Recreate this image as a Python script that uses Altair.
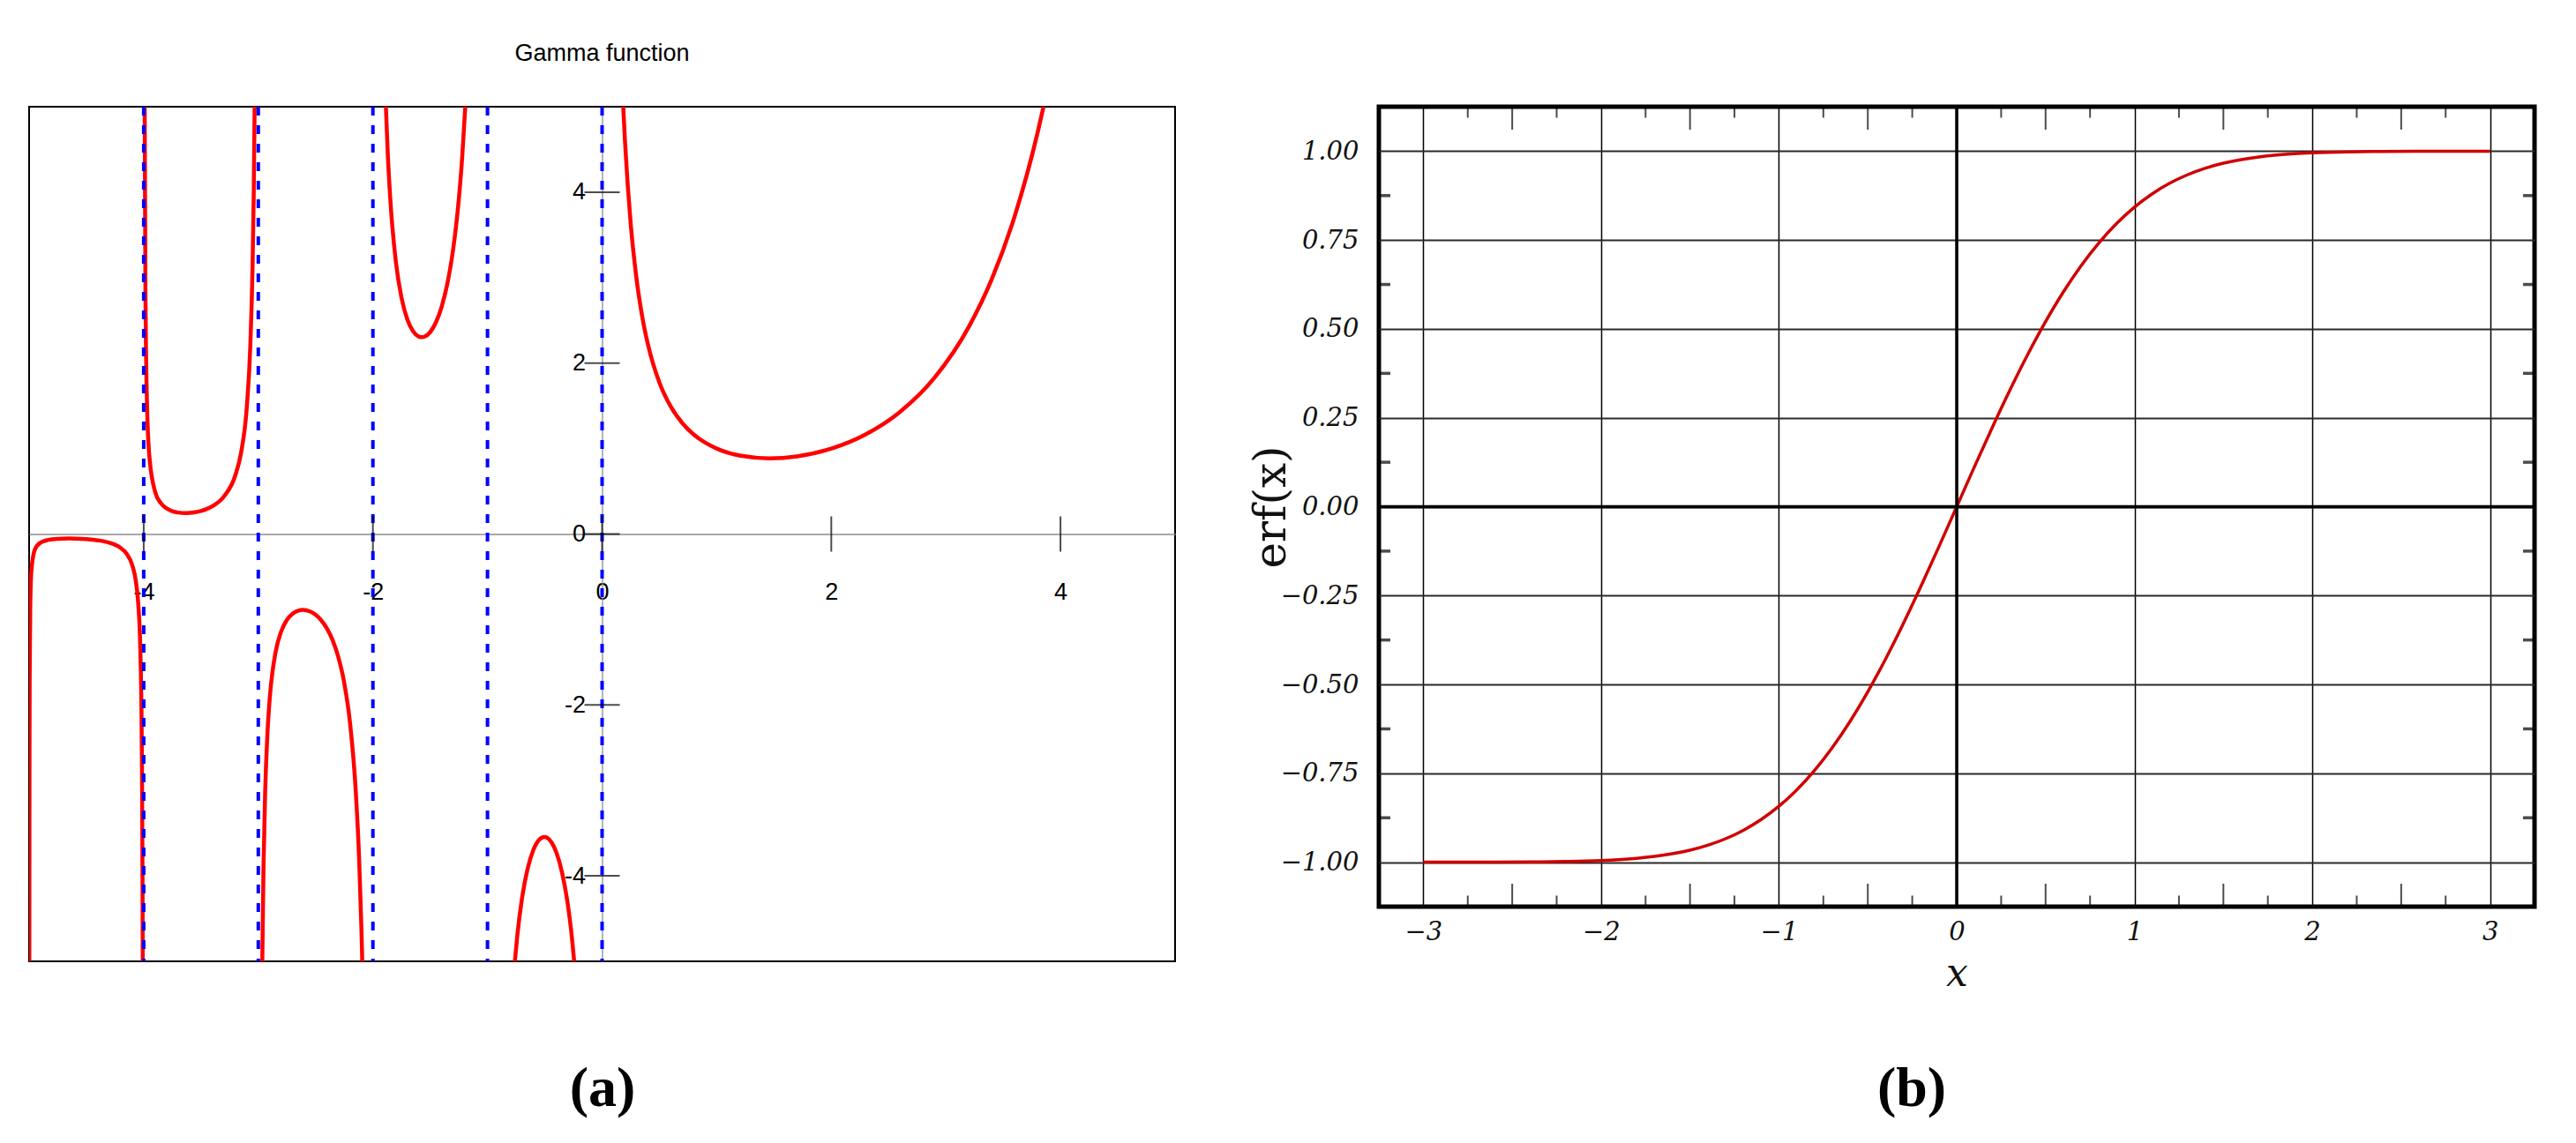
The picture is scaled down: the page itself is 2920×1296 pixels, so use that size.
import altair as alt
import pandas as pd

# ---------------- Panel (a): Gamma function, branches ----------------
gamma_b1_x = [-4.99833, -4.997, -4.995, -4.99, -4.98, -4.95, -4.9, -4.8, -4.7, -4.65, -4.6, -4.5,
              -4.4, -4.3, -4.2, -4.15, -4.1, -4.07, -4.05, -4.03, -4.02, -4.015, -4.01, -4.0082]
gamma_b1_y = [-5.0, -2.792, -1.681, -0.848, -0.431, -0.182, -0.100, -0.0624, -0.0535, -0.0528, -0.0537, -0.0600,
              -0.0741, -0.1020, -0.1641, -0.2295, -0.3640, -0.5397, -0.7759, -1.3288, -2.0224, -2.7167, -4.105, -5.0]

gamma_b2_x = [-3.9916, -3.985, -3.98, -3.97, -3.95, -3.9, -3.85, -3.8, -3.75, -3.7, -3.6356, -3.6,
              -3.55, -3.5, -3.45, -3.4, -3.3, -3.2, -3.15, -3.1, -3.07, -3.05, -3.04, -3.032]
gamma_b2_y = [5.0, 2.842, 2.148, 1.456, 0.902, 0.492, 0.3605, 0.2996, 0.2679, 0.2517, 0.2451, 0.2469,
              0.2550, 0.2701, 0.2930, 0.3259, 0.4385, 0.6890, 0.9523, 1.4923, 2.1955, 3.1424, 3.972, 5.0]

gamma_b3_x = [-2.9651, -2.955, -2.94, -2.92, -2.9, -2.85, -2.8, -2.75, -2.7, -2.65, -2.6107, -2.55,
              -2.5, -2.45, -2.4, -2.35, -2.3, -2.25, -2.2, -2.15, -2.12, -2.1, -2.0929]
gamma_b3_y = [-5.0, -3.931, -3.011, -2.326, -1.919, -1.388, -1.139, -1.0045, -0.9311, -0.8959, -0.8881, -0.9054,
              -0.9453, -1.0109, -1.1080, -1.2471, -1.4472, -1.7428, -2.2049, -2.9996, -3.809, -4.626, -5.0]

gamma_b4_x = [-1.8867, -1.87, -1.85, -1.8, -1.75, -1.7, -1.65, -1.6, -1.5734, -1.55, -1.5, -1.45,
              -1.4, -1.35, -1.3, -1.25, -1.22, -1.194]
gamma_b4_y = [5.0, 4.444, 3.9557, 3.1881, 2.7624, 2.5139, 2.3740, 2.3106, 2.3027, 2.3088, 2.3633, 2.4769,
              2.6593, 2.9308, 3.3285, 3.9213, 4.4255, 5.0]

gamma_b5_x = [-0.7612, -0.74, -0.7, -0.65, -0.6, -0.55, -0.504, -0.45, -0.4, -0.35, -0.3, -0.27, -0.2437]
gamma_b5_y = [-5.0, -4.701, -4.2738, -3.9170, -3.6971, -3.5786, -3.5446, -3.5915, -3.7230, -3.9566, -4.3269, -4.640, -5.0]

gamma_b6_x = [0.1845, 0.2, 0.25, 0.3, 0.35, 0.4, 0.5, 0.6, 0.7, 0.8, 0.9, 1.0,
              1.2, 1.4616, 1.7, 2.0, 2.3, 2.6, 2.9, 3.2, 3.4, 3.6, 3.8, 3.852]
gamma_b6_y = [5.0, 4.5908, 3.6256, 2.9916, 2.5463, 2.2182, 1.7725, 1.4892, 1.2981, 1.1642, 1.0686, 1.0,
              0.9182, 0.8856, 0.9086, 1.0, 1.1668, 1.4296, 1.8274, 2.4240, 2.9812, 3.7170, 4.6942, 5.0]

gamma_poles = [-4, -3, -2, -1, 0]
gamma_x_ticks = [-4, -2, 0, 2, 4]
gamma_y_ticks = [-4, -2, 0, 2, 4]
gamma_domain = [-5, 5]

# ---------------- Panel (b): error function ----------------
erf_x = [-3.0, -2.8, -2.6, -2.4, -2.2, -2.0, -1.9, -1.8, -1.7, -1.6, -1.5, -1.4, -1.3, -1.2, -1.1,
         -1.0, -0.9, -0.8, -0.7, -0.6, -0.5, -0.4, -0.3, -0.2, -0.1, 0.0,
         0.1, 0.2, 0.3, 0.4, 0.5, 0.6, 0.7, 0.8, 0.9, 1.0,
         1.1, 1.2, 1.3, 1.4, 1.5, 1.6, 1.7, 1.8, 1.9, 2.0, 2.2, 2.4, 2.6, 2.8, 3.0]
erf_y = [-1.0, -0.9999, -0.9998, -0.9993, -0.9981, -0.9953, -0.9928, -0.9891, -0.9838, -0.9763, -0.9661,
         -0.9523, -0.9340, -0.9103, -0.8802,
         -0.8427, -0.7969, -0.7421, -0.6778, -0.6039, -0.5205, -0.4284, -0.3286, -0.2227, -0.1125, 0.0,
         0.1125, 0.2227, 0.3286, 0.4284, 0.5205, 0.6039, 0.6778, 0.7421, 0.7969, 0.8427,
         0.8802, 0.9103, 0.9340, 0.9523, 0.9661, 0.9763, 0.9838, 0.9891, 0.9928, 0.9953, 0.9981,
         0.9993, 0.9998, 0.9999, 1.0]
erf_x_grid = [-3, -2, -1, 0, 1, 2, 3]
erf_y_grid = [-1.0, -0.75, -0.5, -0.25, 0.0, 0.25, 0.5, 0.75, 1.0]
erf_x_half = [-2.5, -1.5, -0.5, 0.5, 1.5, 2.5]
erf_x_quarter = [-2.75, -2.25, -1.75, -1.25, -0.75, -0.25, 0.25, 0.75, 1.25, 1.75, 2.25, 2.75]
erf_y_eighth = [-0.875, -0.625, -0.375, -0.125, 0.125, 0.375, 0.625, 0.875]
erf_x_domain = [-3.25, 3.25]
erf_y_domain = [-1.125, 1.125]

# ---------------- sizes ----------------
WA, HA = 1299, 969
WB, HB = 1310, 907

# ---------------- panel (a) ----------------
branches = [(gamma_b1_x, gamma_b1_y), (gamma_b2_x, gamma_b2_y), (gamma_b3_x, gamma_b3_y),
            (gamma_b4_x, gamma_b4_y), (gamma_b5_x, gamma_b5_y), (gamma_b6_x, gamma_b6_y)]
rows = []
for i, (xs, ys) in enumerate(branches):
    for xv, yv in zip(xs, ys):
        rows.append({"x": xv, "y": yv, "branch": i})
gamma_df = pd.DataFrame(rows)

GX = alt.Scale(domain=gamma_domain, nice=False, zero=False)
GY = alt.Scale(domain=gamma_domain, nice=False, zero=False)

ax_a_x = alt.Axis(values=gamma_x_ticks, offset=-HA / 2, ticks=False, tickSize=0, grid=False,
                  domainColor="#8c8c8c", domainWidth=1.3, labelFont="Liberation Sans",
                  labelFontSize=27, labelColor="black", labelPadding=53, labelAngle=0,
                  labelOverlap=False, labelFlush=False,
                  labelExpr="replace(datum.label, '\u2212', '-')",
                  title="(a)", titleFont="Liberation Serif", titleFontSize=64, titleFontWeight="bold",
                  titleColor="black", titleBaseline="alphabetic", titleY=648)
ax_a_y = alt.Axis(values=gamma_y_ticks, offset=-WA / 2, ticks=False, tickSize=0, grid=False,
                  domainColor="#8c8c8c", domainWidth=1.3, labelFont="Liberation Sans",
                  labelFontSize=27, labelColor="black", labelPadding=19, labelOverlap=False,
                  labelFlush=False, labelExpr="replace(datum.label, '\u2212', '-')", title=None)


def gx(field="x"):
    return alt.X(f"{field}:Q", scale=GX, axis=ax_a_x)


def gy(field="y"):
    return alt.Y(f"{field}:Q", scale=GY, axis=ax_a_y)


curve_a = alt.Chart(gamma_df).mark_line(
    color="#ff0000", strokeWidth=4.5, interpolate="monotone", clip=True
).encode(x=gx(), y=gy(), detail="branch:N")
poles_a = alt.Chart(pd.DataFrame({"x": gamma_poles})).mark_rule(
    color="#0000ff", strokeWidth=4, strokeDash=[10, 11]
).encode(x=gx())
xt_a = alt.Chart(pd.DataFrame({"x": gamma_x_ticks, "y": [0] * len(gamma_x_ticks)})).mark_tick(
    orient="vertical", size=40, thickness=2, color="black"
).encode(x=gx(), y=gy())
yt_a = alt.Chart(pd.DataFrame({"x": [0] * len(gamma_y_ticks), "y": gamma_y_ticks})).mark_tick(
    orient="horizontal", size=40, thickness=2, color="black"
).encode(x=gx(), y=gy())

panel_a = alt.layer(curve_a, poles_a, xt_a, yt_a).properties(
    width=WA, height=HA,
    title=alt.Title("Gamma function", font="Liberation Sans", fontSize=27, fontWeight="normal",
                    color="black", baseline="alphabetic", offset=23, anchor="middle", frame="group"),
    view=alt.ViewBackground(stroke="black", strokeWidth=2, fill="white"),
)

# ---------------- panel (b) ----------------
EX = alt.Scale(domain=erf_x_domain, nice=False, zero=False)
EY = alt.Scale(domain=erf_y_domain, nice=False, zero=False)

ax_b_x = alt.Axis(values=erf_x_grid, grid=True, gridColor="black", gridWidth=1.5, domain=False,
                  ticks=False, tickSize=0, labelFont="DejaVu Serif", labelFontStyle="italic",
                  labelFontSize=29, labelColor="#111", labelPadding=14, labelAngle=0,
                  labelOverlap=False, labelFlush=False, format="d",
                  title="x", titleFont="DejaVu Serif", titleFontStyle="italic", titleFontWeight="normal",
                  titleFontSize=44, titleColor="#111", titleBaseline="middle", titleY=76)
ax_b_y = alt.Axis(values=erf_y_grid, grid=True, gridColor="#2a2a2a", gridWidth=2.2, domain=False,
                  ticks=False, tickSize=0, labelFont="DejaVu Serif", labelFontStyle="italic",
                  labelFontSize=29, labelColor="#111", labelPadding=23, labelOverlap=False,
                  labelFlush=False, format=".2f",
                  title="erf(x)", titleFont="DejaVu Serif", titleFontWeight="normal", titleFontSize=50,
                  titleColor="#111", titleBaseline="middle", titleX=-122, titleY=HB / 2)


def ex(field="x"):
    return alt.X(f"{field}:Q", scale=EX, axis=ax_b_x)


def ey(field="y"):
    return alt.Y(f"{field}:Q", scale=EY, axis=ax_b_y)


curve_b = alt.Chart(pd.DataFrame({"x": erf_x, "y": erf_y})).mark_line(
    color="#d00000", strokeWidth=3.5, interpolate="monotone"
).encode(x=ex(), y=ey())

zero_v = alt.Chart(pd.DataFrame({"x": [0]})).mark_rule(color="black", strokeWidth=3.5).encode(x=ex())
zero_h = alt.Chart(pd.DataFrame({"y": [0]})).mark_rule(color="black", strokeWidth=3.5).encode(y=ey())

half_df = pd.DataFrame({"x": erf_x_half * 2,
                        "y": [erf_y_domain[0]] * len(erf_x_half) + [erf_y_domain[1]] * len(erf_x_half)})
quarter_df = pd.DataFrame({"x": erf_x_quarter * 2,
                           "y": [erf_y_domain[0]] * len(erf_x_quarter) + [erf_y_domain[1]] * len(erf_x_quarter)})
side_df = pd.DataFrame({"x": [erf_x_domain[0]] * len(erf_y_eighth) + [erf_x_domain[1]] * len(erf_y_eighth),
                        "y": erf_y_eighth * 2})

half_ticks = alt.Chart(half_df).mark_tick(orient="vertical", size=52, thickness=2, color="black", clip=True).encode(
    x=ex(), y=ey())
quarter_ticks = alt.Chart(quarter_df).mark_tick(orient="vertical", size=25, thickness=2, color="black", clip=True).encode(
    x=ex(), y=ey())
side_ticks = alt.Chart(side_df).mark_tick(orient="horizontal", size=26, thickness=3.5, color="black", clip=True).encode(
    x=ex(), y=ey())

panel_b = alt.layer(curve_b, zero_v, zero_h, half_ticks, quarter_ticks, side_ticks).properties(
    width=WB, height=HB,
    title=alt.Title("(b)", orient="bottom", font="Liberation Serif", fontSize=64, fontWeight="bold",
                    color="black", baseline="alphabetic", offset=128, anchor="middle", frame="group", dx=-51),
    view=alt.ViewBackground(stroke="black", strokeWidth=5, fill="white"),
)

chart = alt.hconcat(panel_a, panel_b, spacing=231, bounds="flush").properties(
    padding={"left": 24, "top": 38, "right": 5, "bottom": 5},
    background="white",
)

chart.save("out.html", embed_options={"renderer": "svg", "actions": False})
